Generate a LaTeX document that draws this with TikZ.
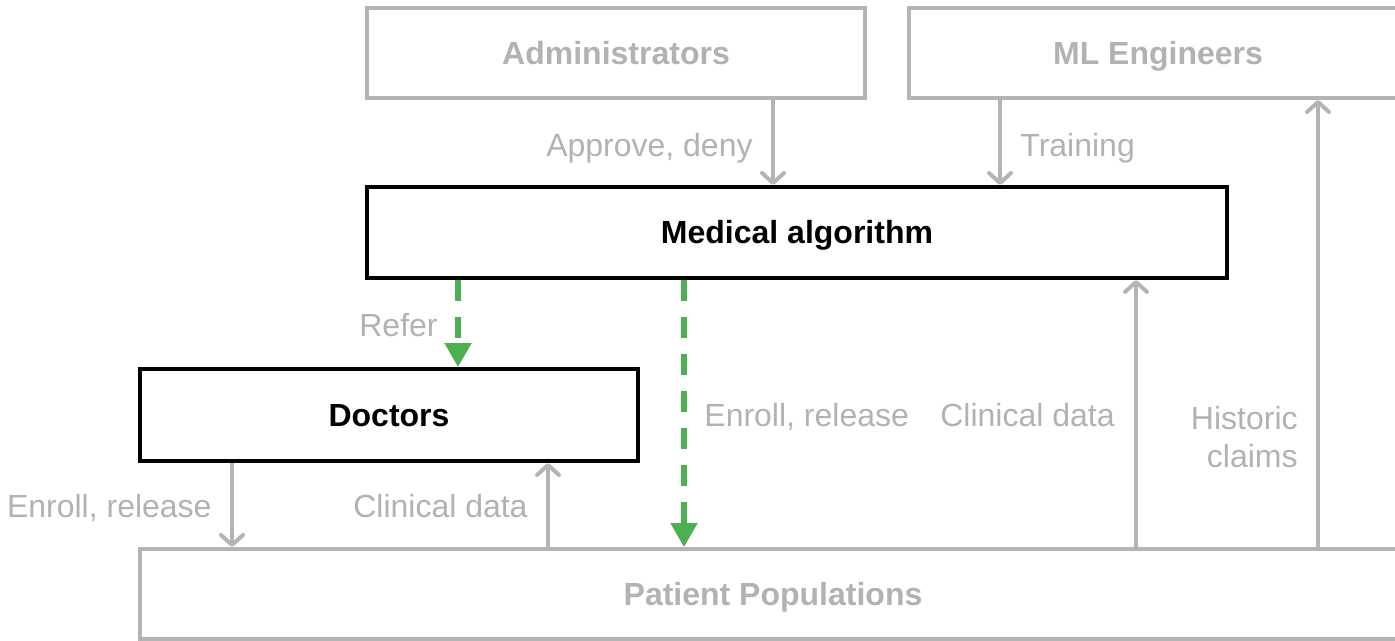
\documentclass[tikz,border=0pt]{standalone}
\usepackage{fontspec}
\setmainfont{Liberation Sans}
\usetikzlibrary{arrows.meta}
\definecolor{lightgray}{RGB}{180,180,180}
\definecolor{txtgray}{RGB}{178,178,178}
\definecolor{flowgreen}{RGB}{76,175,80}
\begin{document}
\begin{tikzpicture}[x=0.5pt,y=-0.5pt,
  textbox/.style={inner sep=0pt, font=\fontsize{16}{19}\selectfont,
    text height=11.4pt, text depth=0pt},
  labelfont/.style={textbox, text=txtgray},
  actorbox/.style={textbox, draw=lightgray, line width=2pt, minimum height=45pt,
    font=\fontsize{16}{19}\selectfont\bfseries, text=txtgray},
  corebox/.style={textbox, draw=black, line width=2pt,
    font=\fontsize{16}{19}\selectfont\bfseries, text=black},
  grayflow/.style={draw=lightgray, line width=2pt,
    -{Straight Barb[length=5pt,width=11pt,line width=2pt,round]}},
  greenflow/.style={draw=flowgreen, line width=2.6pt, dash pattern=on 10.5pt off 8pt,
    -{Triangle[length=12pt,width=13pt]}}]
\useasboundingbox (0,0) rectangle (1395,641);
\clip (0,0) rectangle (1395,641);

% boxes
\node[actorbox, minimum width=249pt] (admin) at (616,53) {Administrators};
\node[actorbox, minimum width=249pt] (ml) at (1158,53) {ML Engineers};
\node[corebox, minimum width=430pt, minimum height=45.5pt] (alg) at (797,232.5) {Medical algorithm};
\node[corebox, minimum width=249pt, minimum height=46pt] (doc) at (389,415) {Doctors};
\node[actorbox, minimum width=633pt] (pat) at (773,594) {Patient Populations};

% horizontal positions of the connectors
\coordinate (xa) at (773,0);
\coordinate (xb) at (1000,0);
\coordinate (xc) at (458,0);
\coordinate (xd) at (684,0);
\coordinate (xe) at (1136,0);
\coordinate (xf) at (1318,0);
\coordinate (xg) at (232,0);
\coordinate (xh) at (548,0);

% connectors
\draw[grayflow] (admin.south -| xa) -- (alg.north -| xa);
\draw[grayflow] (ml.south -| xb) -- (alg.north -| xb);
\draw[greenflow] (alg.south -| xc) -- (doc.north -| xc);
\draw[greenflow] (alg.south -| xd) -- (pat.north -| xd);
\draw[grayflow] (pat.north -| xe) -- (alg.south -| xe);
\draw[grayflow] (pat.north -| xf) -- (ml.south -| xf);
\draw[grayflow] (doc.south -| xg) -- (pat.north -| xg);
\draw[grayflow] (pat.north -| xh) -- (doc.south -| xh);

% connector labels
\node[labelfont, anchor=east] (l1) at (753,145) {Approve, deny};
\node[labelfont, anchor=west] (l2) at (1020,145) {Training};
\node[labelfont, anchor=east] (l3) at (438,325) {Refer};
\node[labelfont, anchor=west] (l4) at (704,415) {Enroll, release};
\node[labelfont, anchor=east] (l5) at (1115,415) {Clinical data};
\node[labelfont, anchor=east] (l6) at (1298,418) {Historic};
\node[labelfont, anchor=east] (l6b) at (1298,456) {claims};
\node[labelfont, anchor=east] (l7) at (212,506) {Enroll, release};
\node[labelfont, anchor=east] (l8) at (528,506) {Clinical data};
\end{tikzpicture}
\end{document}
